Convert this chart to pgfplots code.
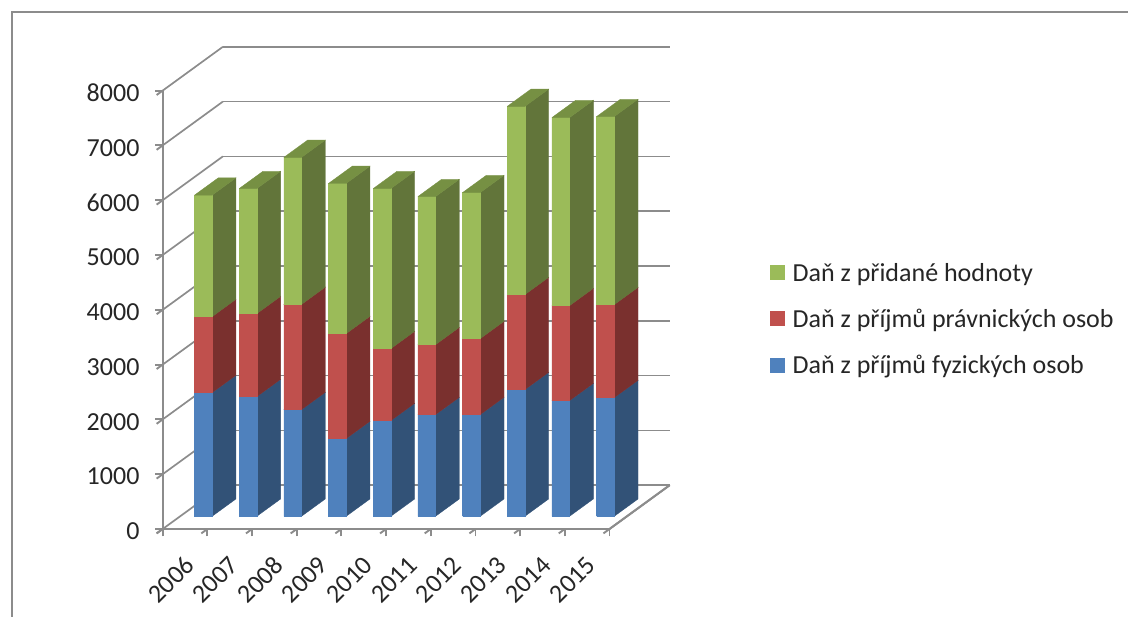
\documentclass[border=0pt]{standalone}
\usepackage{pgfplots}
\usepackage{pgfplotstable}
\usepackage{fontspec}
\setmainfont{Carlito}
\pgfplotsset{compat=1.18}

\definecolor{wallgrey}{HTML}{8C8C8C}
\definecolor{bluefront}{HTML}{4F81BD}
\definecolor{blueside}{HTML}{325277}
\definecolor{bluetop}{HTML}{3F6797}
\definecolor{redfront}{HTML}{C0504D}
\definecolor{redside}{HTML}{7A302E}
\definecolor{redtop}{HTML}{9A403E}
\definecolor{greenfront}{HTML}{9BBB59}
\definecolor{greenside}{HTML}{62753A}
\definecolor{greentop}{HTML}{769043}

% Tax revenue per year, one column per tax
\pgfplotstableread{
idx fyz  prav dph
0   2257 1387 2216
1   2184 1515 2281
2   1947 1920 2682
3   1418 1916 2740
4   1746 1314 2920
5   1856 1277 2701
6   1856 1387 2664
7   2312 1734 3434
8   2111 1734 3431
9   2166 1697 3431
}\taxdata

% One stacked block of a bar: side, front and top faces
\newcommand{\stackblock}[4]{%
  \pgfmathsetmacro\xa{#1+0.32}%
  \pgfmathsetmacro\xb{#1+0.716}%
  \pgfmathsetmacro\za{#2}%
  \pgfmathsetmacro\zb{#2+#3}%
  \edef\facesnippet{%
    \noexpand\addplot3[forget plot,fill=#4side,draw=#4side,line width=0.3pt] coordinates
      {(\xb,0.29,\za)(\xb,0.685,\za)(\xb,0.685,\zb)(\xb,0.29,\zb)(\xb,0.29,\za)};
    \noexpand\addplot3[forget plot,fill=#4front,draw=#4front,line width=0.3pt] coordinates
      {(\xa,0.29,\za)(\xb,0.29,\za)(\xb,0.29,\zb)(\xa,0.29,\zb)(\xa,0.29,\za)};
    \noexpand\addplot3[forget plot,fill=#4top,draw=#4top,line width=0.3pt] coordinates
      {(\xa,0.29,\zb)(\xb,0.29,\zb)(\xb,0.685,\zb)(\xa,0.685,\zb)(\xa,0.29,\zb)};
  }%
  \facesnippet
}

\begin{document}
\begin{tikzpicture}[x=1pt,y=1pt]
\path[use as bounding box] (0,0) rectangle (1128,617);
\draw[wallgrey,line width=2pt] (11.5,0) -- (11.5,605) -- (1128,605);
\begin{axis}[
  at={(162.7pt,88pt)},anchor=origin,
  x={(44.68pt,0pt)},y={(60.2pt,43.8pt)},z={(0pt,0.0548pt)},
  xmin=0,xmax=10,ymin=0,ymax=1,zmin=0,zmax=8000,
  clip=false,
  axis lines=left,
  axis line style={-,wallgrey,line width=1.9pt},
  xtick={0,...,10},
  xticklabels={2006,2007,2008,2009,2010,2011,2012,2013,2014,2015},
  x tick label as interval,
  ytick=\empty,
  ztick={0,1000,...,8000},
  tick align=outside,
  major tick length=7.5pt,
  tick style={wallgrey,line width=1.9pt},
  xmajorgrids=false,ymajorgrids=false,zmajorgrids=true,
  major grid style={wallgrey,line width=1.7pt},
  tick label style={font=\fontsize{26}{30}\selectfont,text=black!85},
  /pgf/number format/assume math mode=true,
  /pgf/number format/1000 sep={},
  x tick label style={rotate=45,anchor=north east,inner sep=0pt,xshift=-12pt,yshift=-18pt},
  z tick label style={anchor=east,inner sep=0pt,xshift=-17pt,yshift=2pt},
  legend image code/.code={\fill[#1,draw=none] (0pt,-7.5pt) rectangle (15pt,7.5pt);},
  legend cell align=left,
  legend style={at={(607.3pt,266pt)},anchor=north west,draw=none,fill=none,
    font=\fontsize{26}{30}\selectfont,text=black!85,inner sep=0pt,outer sep=0pt,
    row sep=26.3pt,column sep=7.7pt,nodes={inner sep=0pt}},
]
  % Right edge of the floor
  \addplot3[forget plot,wallgrey,line width=1.9pt] coordinates {(10,0,0)(10,1,0)};

  \pgfplotsforeachungrouped \i in {0,...,9}{%
    \pgfplotstablegetelem{\i}{fyz}\of\taxdata \let\va\pgfplotsretval
    \pgfplotstablegetelem{\i}{prav}\of\taxdata \let\vb\pgfplotsretval
    \pgfplotstablegetelem{\i}{dph}\of\taxdata \let\vc\pgfplotsretval
    \pgfmathsetmacro\sb{\va+\vb}%
    \stackblock{\i}{0}{\va}{blue}%
    \stackblock{\i}{\va}{\vb}{red}%
    \stackblock{\i}{\sb}{\vc}{green}%
  }

  \addlegendimage{fill=greenfront}
  \addlegendentry{Daň z přidané hodnoty}
  \addlegendimage{fill=redfront}
  \addlegendentry{Daň z příjmů právnických osob}
  \addlegendimage{fill=bluefront}
  \addlegendentry{Daň z příjmů fyzických osob}
\end{axis}
\end{tikzpicture}
\end{document}
